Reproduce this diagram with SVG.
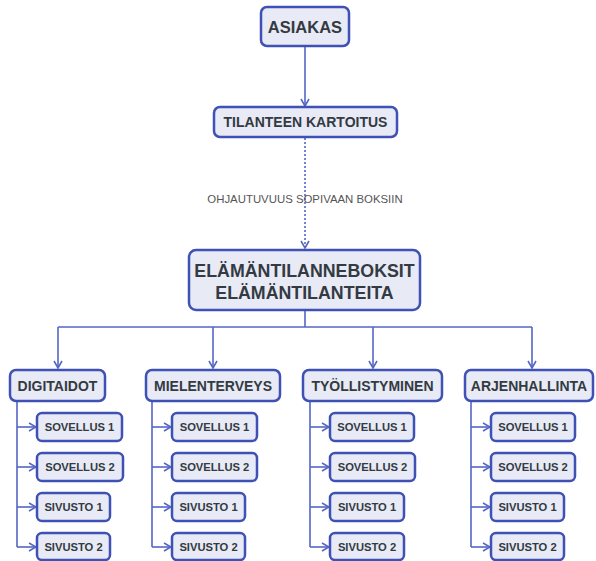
<svg xmlns="http://www.w3.org/2000/svg" width="596" height="561" viewBox="0 0 596 561">
<style>
.box{fill:#e8eaf6;stroke:#3f51b5;stroke-width:2.5}
.t{font-family:"Liberation Sans",Arial,sans-serif;font-weight:bold;fill:#333a42;text-anchor:middle}
.c{stroke:#5566c4;stroke-width:1.6;fill:none}
.lbl{font-family:"Liberation Sans",Arial,sans-serif;font-size:11.4px;fill:#555;text-anchor:middle}
.s{font-size:11.2px}
.cat{font-size:14px}
</style>
<defs>
<marker id="ah" viewBox="0 0 10 10" refX="9" refY="5" markerWidth="10" markerHeight="10" markerUnits="userSpaceOnUse" orient="auto">
<path d="M2,1 L9,5 L2,9" fill="none" stroke="#5566c4" stroke-width="1.6"/>
</marker>
</defs>
<rect width="596" height="561" fill="#ffffff"/>
<g id="connectors">
<line class="c" x1="305" y1="46" x2="305" y2="106" marker-end="url(#ah)"/>
<line class="c" x1="305" y1="138" x2="305" y2="248" stroke-dasharray="2,2" stroke-width="2" marker-end="url(#ah)"/>
<text class="lbl" x="305" y="203">OHJAUTUVUUS SOPIVAAN BOKSIIN</text>
<path class="c" d="M305,311 V327 M58,327 H532"/>
<line class="c" x1="58" y1="327" x2="58" y2="368" marker-end="url(#ah)"/>
<line class="c" x1="213" y1="327" x2="213" y2="368" marker-end="url(#ah)"/>
<line class="c" x1="373" y1="327" x2="373" y2="368" marker-end="url(#ah)"/>
<line class="c" x1="532" y1="327" x2="532" y2="368" marker-end="url(#ah)"/>
<path class="c" d="M17,402 V547 M152,402 V547 M310,402 V547 M471,402 V547"/>
<line class="c" x1="17" y1="427" x2="36" y2="427" marker-end="url(#ah)"/>
<line class="c" x1="17" y1="467" x2="36" y2="467" marker-end="url(#ah)"/>
<line class="c" x1="17" y1="507" x2="36" y2="507" marker-end="url(#ah)"/>
<line class="c" x1="17" y1="547" x2="36" y2="547" marker-end="url(#ah)"/>
<line class="c" x1="152" y1="427" x2="171" y2="427" marker-end="url(#ah)"/>
<line class="c" x1="152" y1="467" x2="171" y2="467" marker-end="url(#ah)"/>
<line class="c" x1="152" y1="507" x2="171" y2="507" marker-end="url(#ah)"/>
<line class="c" x1="152" y1="547" x2="171" y2="547" marker-end="url(#ah)"/>
<line class="c" x1="310" y1="427" x2="329" y2="427" marker-end="url(#ah)"/>
<line class="c" x1="310" y1="467" x2="329" y2="467" marker-end="url(#ah)"/>
<line class="c" x1="310" y1="507" x2="329" y2="507" marker-end="url(#ah)"/>
<line class="c" x1="310" y1="547" x2="329" y2="547" marker-end="url(#ah)"/>
<line class="c" x1="471" y1="427" x2="490" y2="427" marker-end="url(#ah)"/>
<line class="c" x1="471" y1="467" x2="490" y2="467" marker-end="url(#ah)"/>
<line class="c" x1="471" y1="507" x2="490" y2="507" marker-end="url(#ah)"/>
<line class="c" x1="471" y1="547" x2="490" y2="547" marker-end="url(#ah)"/>
</g>
<g id="asiakas"><rect class="box" x="261" y="7" width="88" height="39" rx="6"/><text class="t" x="305" y="32.5" font-size="16.5">ASIAKAS</text></g>
<g id="kartoitus"><rect class="box" x="214" y="107" width="183" height="30" rx="6"/><text class="t" x="305.5" y="127" font-size="14">TILANTEEN KARTOITUS</text></g>
<g id="boksit"><rect class="box" x="189" y="250" width="231" height="60" rx="7"/><text class="t" x="304.5" y="277" font-size="17.8">ELÄMÄNTILANNEBOKSIT</text><text class="t" x="304.5" y="299" font-size="17.8">ELÄMÄNTILANTEITA</text></g>

<g id="digitaidot"><rect class="box" x="10" y="370" width="95" height="31" rx="6"/><text class="t cat" x="57.5" y="390.5">DIGITAIDOT</text></g>
<g id="d-s1"><rect class="box" x="37" y="413" width="85" height="28" rx="5"/><text class="t s" x="79.5" y="431">SOVELLUS 1</text></g>
<g id="d-s2"><rect class="box" x="37" y="453" width="86" height="28" rx="5"/><text class="t s" x="80" y="471">SOVELLUS 2</text></g>
<g id="d-w1"><rect class="box" x="37" y="493" width="73" height="28" rx="5"/><text class="t s" x="73.5" y="511">SIVUSTO 1</text></g>
<g id="d-w2"><rect class="box" x="37" y="533" width="73" height="27" rx="5"/><text class="t s" x="73.5" y="551">SIVUSTO 2</text></g>

<g id="mielenterveys"><rect class="box" x="146" y="370" width="134" height="31" rx="6"/><text class="t cat" x="213" y="390.5">MIELENTERVEYS</text></g>
<g id="m-s1"><rect class="box" x="172" y="413" width="85" height="28" rx="5"/><text class="t s" x="214.5" y="431">SOVELLUS 1</text></g>
<g id="m-s2"><rect class="box" x="172" y="453" width="85" height="28" rx="5"/><text class="t s" x="214.5" y="471">SOVELLUS 2</text></g>
<g id="m-w1"><rect class="box" x="172" y="493" width="73" height="28" rx="5"/><text class="t s" x="208.5" y="511">SIVUSTO 1</text></g>
<g id="m-w2"><rect class="box" x="172" y="533" width="73" height="27" rx="5"/><text class="t s" x="208.5" y="551">SIVUSTO 2</text></g>

<g id="tyollistyminen"><rect class="box" x="303" y="370" width="139" height="31" rx="6"/><text class="t cat" x="372.5" y="390.5">TYÖLLISTYMINEN</text></g>
<g id="t-s1"><rect class="box" x="330" y="413" width="84" height="28" rx="5"/><text class="t s" x="372" y="431">SOVELLUS 1</text></g>
<g id="t-s2"><rect class="box" x="330" y="453" width="85" height="28" rx="5"/><text class="t s" x="372.5" y="471">SOVELLUS 2</text></g>
<g id="t-w1"><rect class="box" x="330" y="493" width="74" height="28" rx="5"/><text class="t s" x="367" y="511">SIVUSTO 1</text></g>
<g id="t-w2"><rect class="box" x="330" y="533" width="74" height="27" rx="5"/><text class="t s" x="367" y="551">SIVUSTO 2</text></g>

<g id="arjenhallinta"><rect class="box" x="465" y="370" width="128" height="31" rx="6"/><text class="t cat" x="529" y="390.5">ARJENHALLINTA</text></g>
<g id="a-s1"><rect class="box" x="491" y="413" width="84" height="28" rx="5"/><text class="t s" x="533" y="431">SOVELLUS 1</text></g>
<g id="a-s2"><rect class="box" x="491" y="453" width="84" height="28" rx="5"/><text class="t s" x="533" y="471">SOVELLUS 2</text></g>
<g id="a-w1"><rect class="box" x="491" y="493" width="73" height="28" rx="5"/><text class="t s" x="527.5" y="511">SIVUSTO 1</text></g>
<g id="a-w2"><rect class="box" x="491" y="533" width="73" height="27" rx="5"/><text class="t s" x="527.5" y="551">SIVUSTO 2</text></g>
</svg>
